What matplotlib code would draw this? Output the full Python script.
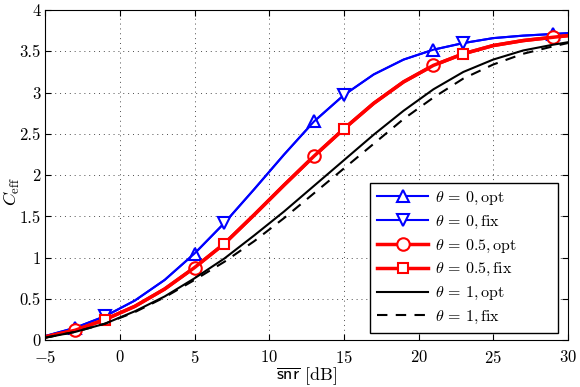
import numpy as np
import matplotlib
matplotlib.use('Agg')
import matplotlib.pyplot as plt

plt.rcParams['font.family'] = 'serif'
plt.rcParams['font.serif'] = ['cmr10']
plt.rcParams['mathtext.fontset'] = 'cm'
plt.rcParams['axes.formatter.use_mathtext'] = True

# snr grid [dB]
snr = [-5, -3, -1, 1, 3, 5, 7, 9, 11, 13, 15, 17, 19, 21, 23, 25, 27, 29, 30]

# C_eff curves
c_th0 = [0.05, 0.15, 0.29, 0.48, 0.73, 1.05, 1.42, 1.83, 2.25, 2.65, 2.97,
         3.22, 3.40, 3.52, 3.60, 3.66, 3.69, 3.71, 3.72]
c_th05 = [0.04, 0.12, 0.25, 0.41, 0.62, 0.88, 1.17, 1.52, 1.88, 2.23, 2.56,
          2.87, 3.13, 3.33, 3.47, 3.57, 3.63, 3.67, 3.69]
c_th1_opt = [0.03, 0.10, 0.20, 0.35, 0.53, 0.75, 0.99, 1.27, 1.56, 1.87, 2.18,
             2.49, 2.78, 3.04, 3.25, 3.40, 3.51, 3.58, 3.61]
c_th1_fix = [0.03, 0.10, 0.20, 0.34, 0.52, 0.73, 0.95, 1.20, 1.48, 1.78, 2.08,
             2.38, 2.68, 2.94, 3.17, 3.34, 3.47, 3.56, 3.60]

opt_marks = [1, 5, 9, 13, 17]
fix_marks = [2, 6, 10, 14]

fig = plt.figure(figsize=(5.8, 3.87), dpi=100)
ax = fig.add_axes([0.078, 0.121, 0.901, 0.853])

ms = 9
ax.plot(snr, c_th0, color='blue', lw=1.5, marker='^', ms=ms, mfc='white',
        mew=1.5, markevery=opt_marks, label=r'$\theta\, =\, 0, \mathrm{opt}$')
ax.plot(snr, c_th0, color='blue', lw=1.5, marker='v', ms=ms, mfc='white',
        mew=1.5, markevery=fix_marks, label=r'$\theta\, =\, 0, \mathrm{fix}$')
ax.plot(snr, c_th05, color='red', lw=2.5, marker='o', ms=ms, mfc='white',
        mew=1.5, markevery=opt_marks, label=r'$\theta\, =\, 0.5, \mathrm{opt}$')
ax.plot(snr, c_th05, color='red', lw=2.5, marker='s', ms=ms - 1.5, mfc='white',
        mew=1.5, markevery=fix_marks, label=r'$\theta\, =\, 0.5, \mathrm{fix}$')
ax.plot(snr, c_th1_opt, color='black', lw=1.5,
        label=r'$\theta\, =\, 1, \mathrm{opt}$')
ax.plot(snr, c_th1_fix, color='black', lw=1.5, ls=(0, (5, 4)),
        label=r'$\theta\, =\, 1, \mathrm{fix}$')

ax.set_xlim(-5, 30)
ax.set_ylim(0, 4)
ax.set_xticks(np.arange(-5, 31, 5))
ax.set_yticks(np.arange(0, 4.01, 0.5))
ax.set_yticklabels(['0', '0.5', '1', '1.5', '2', '2.5', '3', '3.5', '4'])
ax.tick_params(direction='in', top=True, right=True, labelsize=12, length=4)
ax.tick_params(axis='x', pad=6)
ax.grid(True, ls=(0, (1, 4)), color='0.3', lw=0.7)

ax.set_xlabel(r'$\overline{\mathsf{snr}}$ [dB]', fontsize=13, labelpad=0)
ax.set_ylabel(r'$C_{\rm eff}$', fontsize=13)
ax.yaxis.set_label_coords(-0.045, 0.45)

# legend box stretched to the width seen in the reference
leg = ax.legend(loc='lower left', bbox_to_anchor=(0.621, 0.021, 0.361, 0.46),
                mode='expand', fontsize=11.5, handlelength=3.2,
                handletextpad=0.45, fancybox=False, framealpha=1,
                edgecolor='black', borderaxespad=0, labelspacing=0.42,
                borderpad=0.45)
leg.get_frame().set_linewidth(1.0)

fig.savefig('out.png', dpi=100)
